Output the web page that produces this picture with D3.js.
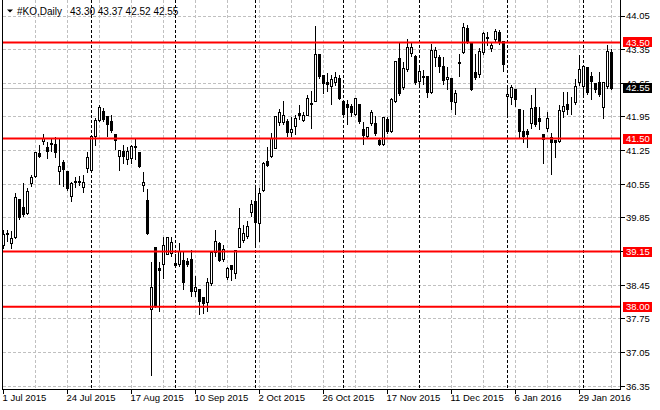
<!DOCTYPE html>
<html>
<head>
<meta charset="utf-8">
<script src="https://cdn.jsdelivr.net/npm/d3@7"></script>
<style>
body { margin: 0; background: #fff; }
text { font-family: "Liberation Sans", Arial, sans-serif; font-size: 9.5px; fill: #000; }
</style>
</head>
<body>
<div id="chart"></div>
<script>
// daily bars, 1 Jul 2015 .. 9 Feb 2016
const opens = [
  39.27, 39.52, 39.31, 39.44, 40.24, 40.06, 39.94, 40.56, 40.71, 41.19,
  41.44, 41.31, 41.37, 41.37, 40.81, 41.01, 40.81, 40.29, 40.58, 40.60,
  40.48, 40.87, 40.83, 41.55, 41.87, 42.07, 41.95, 41.85, 41.58, 41.13,
  41.24, 41.06, 41.09, 41.34, 41.22, 40.53, 40.21, 37.95, 39.23, 38.79,
  38.88, 39.09, 39.12, 38.90, 38.88, 38.96, 38.95, 38.99, 38.31, 38.36,
  38.19, 38.10, 38.49, 39.14, 39.32, 38.98, 38.62, 38.87, 38.69, 39.24,
  39.38, 39.47, 39.97, 40.20, 39.73, 40.43, 41.03, 41.12, 41.29, 41.83,
  41.83, 41.85, 41.63, 41.76, 42.02, 41.88, 41.99, 42.23, 42.28, 43.25,
  42.81, 42.67, 42.59, 42.66, 42.76, 42.28, 42.21, 42.16, 42.00, 42.21,
  41.69, 41.55, 41.81, 41.81, 41.46, 41.38, 41.90, 41.65, 42.28, 43.16,
  42.56, 42.94, 43.28, 43.21, 42.69, 42.80, 42.80, 42.45, 43.19, 43.18,
  43.01, 42.73, 42.75, 42.26, 43.07, 43.30, 43.80, 43.47, 42.87, 42.83,
  43.30, 43.58, 43.37, 43.56, 43.70, 43.51, 42.37, 42.36, 42.52, 42.10,
  41.64, 41.65, 41.81, 42.15, 41.92, 41.59, 41.72, 41.52, 41.46, 41.43,
  42.07, 42.20, 42.11, 42.26, 42.66, 42.59, 42.97, 42.80, 42.64, 42.66,
  42.14, 42.59, 43.30
];
const highs = [
  39.61, 39.61, 39.58, 40.37, 40.26, 40.58, 40.48, 40.76, 41.23, 41.38,
  41.60, 41.45, 41.52, 41.55, 41.52, 41.07, 40.84, 40.60, 40.72, 40.74,
  40.76, 41.24, 41.57, 41.93, 42.21, 42.15, 41.97, 42.00, 41.59, 41.25,
  41.38, 41.34, 41.38, 41.52, 41.24, 40.82, 40.46, 38.95, 39.26, 38.95,
  39.47, 39.47, 39.47, 39.12, 39.33, 39.16, 39.02, 39.19, 38.65, 38.36,
  38.20, 38.62, 39.15, 39.61, 39.37, 39.30, 38.85, 38.87, 39.17, 40.06,
  39.71, 39.80, 40.23, 40.48, 40.48, 41.03, 41.34, 41.62, 41.97, 42.12,
  42.29, 41.91, 41.97, 42.00, 42.21, 42.07, 42.42, 42.51, 43.85, 43.28,
  42.81, 42.87, 42.83, 42.89, 42.83, 42.31, 42.31, 42.24, 42.35, 42.22,
  41.86, 41.76, 42.11, 41.99, 41.53, 41.97, 41.97, 42.35, 43.12, 43.53,
  43.11, 43.58, 43.49, 43.24, 43.00, 42.94, 42.82, 43.47, 43.42, 43.25,
  43.21, 43.01, 42.76, 42.52, 43.26, 43.91, 43.87, 43.49, 43.26, 43.39,
  43.73, 43.73, 43.51, 43.79, 43.77, 43.51, 42.59, 42.62, 42.52, 42.10,
  42.10, 41.72, 42.42, 42.57, 42.17, 41.59, 42.07, 41.62, 41.48, 42.21,
  42.49, 42.49, 42.38, 42.76, 43.25, 43.01, 43.01, 42.90, 42.66, 42.89,
  42.66, 43.46, 43.37
];
const lows = [
  39.22, 39.37, 39.22, 39.42, 39.82, 39.89, 39.92, 40.51, 40.70, 41.10,
  41.38, 41.09, 41.24, 41.10, 40.55, 40.51, 40.43, 40.19, 40.48, 40.53,
  40.37, 40.79, 40.80, 41.35, 41.85, 41.85, 41.55, 41.62, 41.27, 40.84,
  40.99, 40.96, 40.99, 41.06, 40.89, 40.41, 39.50, 36.58, 37.98, 37.91,
  38.60, 39.08, 39.05, 38.82, 38.85, 38.36, 38.85, 38.22, 38.22, 37.84,
  37.86, 37.91, 38.45, 39.05, 38.94, 38.95, 38.57, 38.55, 38.60, 39.23,
  39.33, 39.43, 39.89, 39.26, 39.37, 40.40, 40.93, 41.10, 41.29, 41.77,
  41.80, 41.55, 41.55, 41.58, 41.90, 41.85, 41.98, 41.70, 42.27, 42.76,
  42.44, 42.47, 42.21, 42.60, 42.31, 41.95, 41.79, 41.97, 41.98, 41.82,
  41.38, 41.50, 41.78, 41.57, 41.36, 41.36, 41.60, 41.62, 42.26, 42.40,
  42.52, 42.90, 43.20, 42.63, 42.60, 42.62, 42.35, 42.43, 43.01, 42.87,
  42.63, 42.52, 42.10, 42.00, 42.80, 43.28, 43.47, 42.50, 42.72, 42.78,
  43.25, 43.44, 43.32, 43.50, 43.45, 42.89, 41.97, 42.21, 42.17, 41.53,
  41.41, 41.32, 41.70, 41.75, 41.69, 40.99, 41.64, 40.75, 41.10, 41.41,
  41.93, 42.00, 42.00, 42.20, 42.60, 42.38, 42.42, 42.31, 42.45, 42.38,
  41.92, 42.55, 42.52
];
const closes = [
  39.51, 39.50, 39.42, 40.27, 39.85, 39.92, 40.40, 40.69, 41.21, 41.13,
  41.50, 41.24, 41.39, 41.21, 40.92, 40.85, 40.47, 40.57, 40.60, 40.58,
  40.59, 41.10, 41.55, 41.87, 42.14, 41.90, 41.79, 41.67, 41.47, 41.25,
  41.12, 41.24, 41.34, 41.31, 40.91, 40.58, 39.53, 38.40, 38.01, 38.76,
  39.28, 39.44, 39.33, 38.87, 39.16, 38.51, 38.88, 38.33, 38.40, 38.12,
  38.08, 38.50, 39.14, 39.37, 38.96, 39.19, 38.79, 38.78, 39.17, 39.62,
  39.52, 39.68, 40.13, 39.76, 40.36, 40.99, 40.95, 41.50, 41.97, 42.04,
  41.99, 41.63, 41.69, 41.91, 41.99, 41.99, 42.33, 42.20, 43.25, 42.80,
  42.65, 42.63, 42.73, 42.78, 42.33, 42.00, 42.15, 42.05, 42.33, 41.86,
  41.57, 41.74, 42.04, 41.60, 41.38, 41.93, 41.64, 42.31, 43.11, 42.43,
  42.96, 43.39, 43.39, 42.66, 42.90, 42.78, 42.45, 43.34, 43.33, 43.01,
  42.71, 42.78, 42.28, 42.44, 43.08, 43.82, 43.53, 42.52, 42.78, 43.32,
  43.68, 43.61, 43.44, 43.72, 43.51, 43.04, 42.42, 42.57, 42.31, 41.64,
  41.55, 41.59, 42.12, 41.79, 41.86, 41.48, 41.92, 41.41, 41.41, 42.08,
  42.17, 42.11, 42.11, 42.59, 42.94, 43.01, 42.45, 42.69, 42.52, 42.42,
  42.66, 43.32, 42.55
];

// time axis: a label every 16 bars
const tickBars = [0, 16, 32, 48, 64, 80, 96, 112, 128, 144];
const tickLabels = ["1 Jul 2015", "24 Jul 2015", "17 Aug 2015", "10 Sep 2015", "2 Oct 2015",
                    "26 Oct 2015", "17 Nov 2015", "11 Dec 2015", "6 Jan 2016", "29 Jan 2016"];
// first bar of each month (period separators)
const monthStarts = [22, 43, 63, 85, 104, 126, 145];
// price scale labels
const priceTicks = [44.05, 43.35, 42.65, 41.95, 41.25, 40.55, 39.85, 39.15, 38.45, 37.75, 37.05, 36.35];
// horizontal support / resistance levels
const levels = [43.50, 41.50, 39.15, 38.00];
const lastPrice = 42.55;

const W = 660, H = 410;
const left = 2.5, right = 620.5, bottom = 389.5;

const svg = d3.select("#chart").append("svg")
    .attr("width", W)
    .attr("height", H)
    .style("display", "block");

const nBars = closes.length;
// bar i sits at 3.5 + 4*i
const x = d3.scaleLinear().domain([0, nBars - 1]).range([3.5, 3.5 + 4 * (nBars - 1)]);
const y = d3.scaleLinear().domain([36.35, 44.05]).range([386.2, 16]);
const py = v => Math.floor(y(v)) + 0.5;

// grid
const grid = svg.append("g").attr("shape-rendering", "crispEdges");
grid.selectAll(".hg").data(priceTicks).enter().append("line")
    .attr("x1", left).attr("x2", right)
    .attr("y1", d => py(d)).attr("y2", d => py(d))
    .attr("stroke", "#c0c0c0").attr("stroke-dasharray", "3,2");

const vGrid = d3.range(8, nBars, 8);
grid.selectAll(".vg").data(vGrid).enter().append("line")
    .attr("x1", d => x(d)).attr("x2", d => x(d))
    .attr("y1", 0).attr("y2", bottom)
    .attr("stroke", "#c0c0c0").attr("stroke-dasharray", "3,2");

grid.selectAll(".sep").data(monthStarts).enter().append("line")
    .attr("x1", d => x(d)).attr("x2", d => x(d))
    .attr("y1", 0).attr("y2", bottom)
    .attr("stroke", "#000").attr("stroke-dasharray", "3,2");

// bid line
grid.append("line")
    .attr("x1", left).attr("x2", right)
    .attr("y1", py(lastPrice)).attr("y2", py(lastPrice))
    .attr("stroke", "#c0c0c0");

// candles
const idx = d3.range(nBars);
const candles = svg.append("g").attr("shape-rendering", "crispEdges");
candles.selectAll(".wick").data(idx).enter().append("line")
    .attr("x1", i => x(i)).attr("x2", i => x(i))
    .attr("y1", i => py(highs[i])).attr("y2", i => py(lows[i]))
    .attr("stroke", "#000");
candles.selectAll(".body").data(idx).enter().append("rect")
    .attr("x", i => x(i) - 1)
    .attr("width", 2)
    .attr("y", i => py(Math.max(opens[i], closes[i])))
    .attr("height", i => Math.abs(py(opens[i]) - py(closes[i])))
    .attr("fill", i => closes[i] >= opens[i] ? "#fff" : "#000")
    .attr("stroke", "#000");

// levels
svg.append("g").selectAll("line").data(levels).enter().append("line")
    .attr("x1", 3).attr("x2", right)
    .attr("y1", d => y(d)).attr("y2", d => y(d))
    .attr("stroke", "#ff0000").attr("stroke-width", 2);

// frame
svg.append("path")
    .attr("d", `M${left},0V${bottom}H${right}V0`)
    .attr("fill", "none").attr("stroke", "#000")
    .attr("shape-rendering", "crispEdges");

// price axis (labels hidden behind a tag are partly covered, as in the terminal)
const pAxis = svg.append("g");
pAxis.selectAll("line").data(priceTicks).enter().append("line")
    .attr("x1", right).attr("x2", right + 4)
    .attr("y1", d => py(d)).attr("y2", d => py(d))
    .attr("stroke", "#000").attr("shape-rendering", "crispEdges");
pAxis.selectAll("text").data(priceTicks).enter().append("text")
    .attr("x", 626).attr("y", d => y(d)).attr("dy", "0.35em")
    .text(d => d.toFixed(2));

// level tags
const tags = svg.append("g");
const tagData = levels.map(v => ({ v, bg: "#ff0000" })).concat([{ v: lastPrice, bg: "#000" }]);
tags.selectAll("rect").data(tagData).enter().append("rect")
    .attr("x", 623).attr("width", 29)
    .attr("y", d => Math.round(y(d.v)) - 5).attr("height", 10)
    .attr("fill", d => d.bg);
tags.selectAll("text").data(tagData).enter().append("text")
    .attr("x", 626).attr("y", d => y(d.v)).attr("dy", "0.35em")
    .style("fill", "#fff")
    .text(d => d.v.toFixed(2));

// time axis
const tAxis = svg.append("g");
tAxis.selectAll("line").data(tickBars).enter().append("line")
    .attr("x1", d => x(d)).attr("x2", d => x(d))
    .attr("y1", bottom).attr("y2", bottom + 4)
    .attr("stroke", "#000").attr("shape-rendering", "crispEdges");
tAxis.selectAll("text").data(tickBars).enter().append("text")
    .attr("x", d => x(d) - 1).attr("y", 401)
    .text((d, i) => tickLabels[i]);

// title
svg.append("path").attr("d", "M7,9.5H13L10,12.5Z").attr("fill", "#000");
svg.append("text").attr("x", 17).attr("y", 14.5).style("font-size", "10px").text("#KO,Daily");
svg.append("text").attr("x", 70).attr("y", 14.5).style("font-size", "10px")
    .text([opens, highs, lows, closes].map(a => a[nBars - 1].toFixed(2)).join(" "));
</script>
</body>
</html>
